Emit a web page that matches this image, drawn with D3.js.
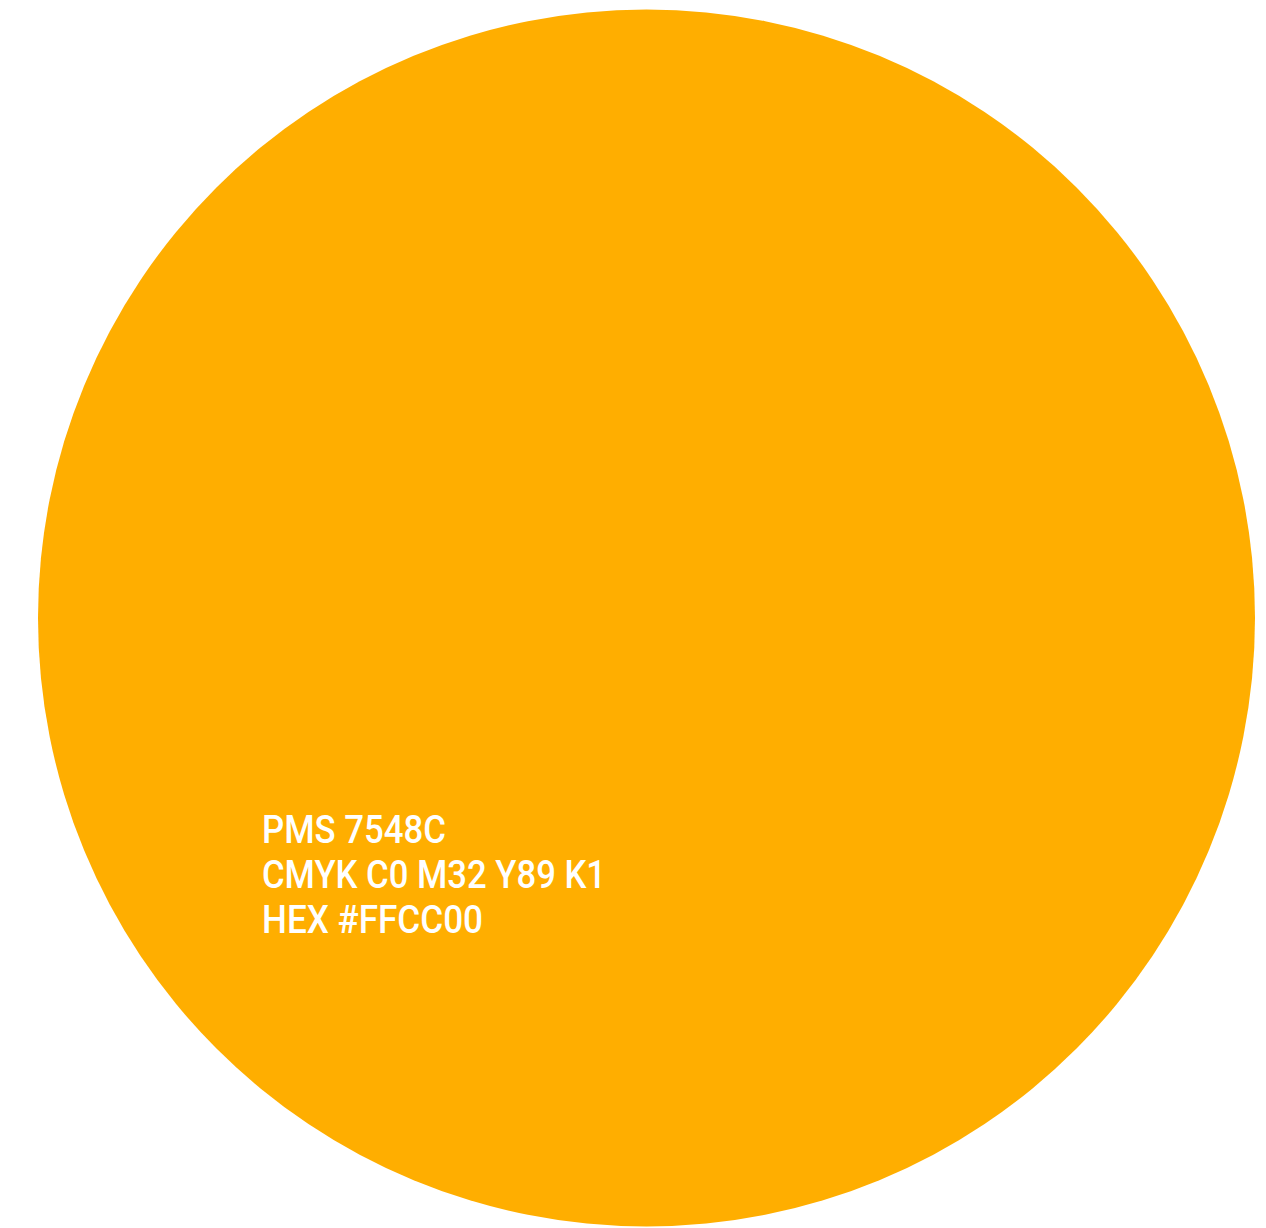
<!DOCTYPE html>
<html>
<head>
<meta charset="utf-8">
<script src="https://cdn.jsdelivr.net/npm/d3@7"></script>
<style>
  html, body { margin: 0; padding: 0; background: #ffffff; }
</style>
</head>
<body>
<div id="chart"></div>
<script>
// swatch data
const swatchColor = "#FFAE00";
const swatchLabels = ["PMS 7548C", "CMYK C0 M32 Y89 K1", "HEX #FFCC00"];
const labelWidths = [184, 344, 221];

const svg = d3.select("#chart")
    .append("svg")
    .attr("width", 1266)
    .attr("height", 1228);

const cx = 646.5, cy = 618, r = 608.5;

// the swatch itself, a single full slice
const pie = d3.pie().sort(null).value(d => d)([1]);
const arc = d3.arc().innerRadius(0).outerRadius(r);

svg.append("g")
    .attr("transform", "translate(" + cx + "," + cy + ")")
    .selectAll("path")
    .data(pie)
    .join("path")
    .attr("d", arc)
    .attr("fill", swatchColor);

const y = d3.scalePoint()
    .domain(swatchLabels)
    .range([843, 933]);

svg.append("g")
    .selectAll("text")
    .data(swatchLabels)
    .join("text")
    .attr("x", 262)
    .attr("y", d => y(d))
    .attr("textLength", (d, i) => labelWidths[i])
    .attr("lengthAdjust", "spacingAndGlyphs")
    .style("font-family", "Roboto, 'DejaVu Sans', sans-serif")
    .style("font-weight", 500)
    .style("font-size", "39px")
    .style("fill", "#ffffff")
    .text(d => d);
</script>
</body>
</html>
